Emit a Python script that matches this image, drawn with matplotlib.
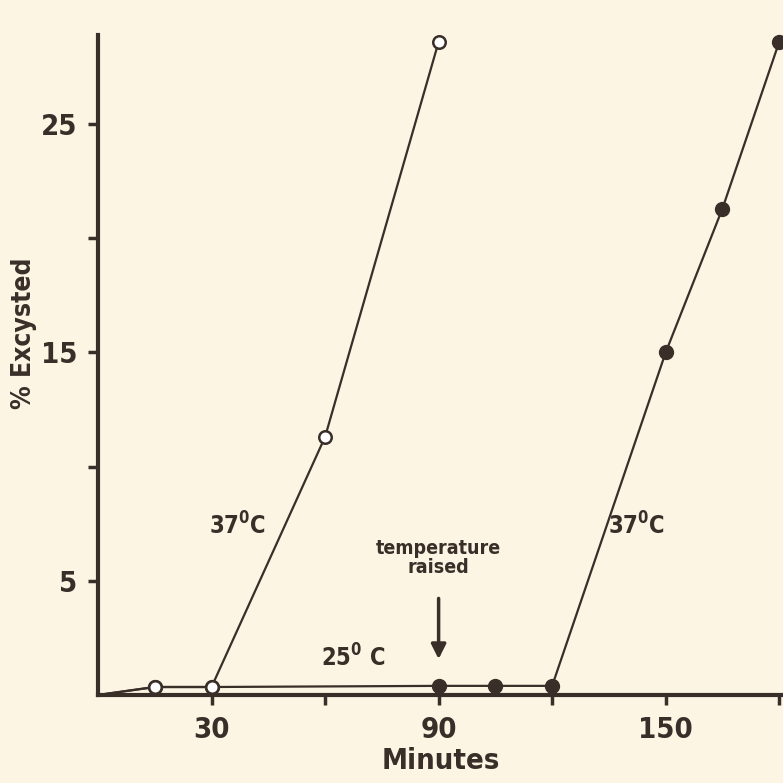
import matplotlib
matplotlib.use("Agg")
import matplotlib.pyplot as plt
from matplotlib import font_manager

# data
open_min = [0, 15, 30, 60, 90]
open_pct = [0, 0.35, 0.35, 11.3, 28.6]

filled_min = [0, 15, 30, 90, 105, 120, 150, 165, 180]
filled_pct = [0, 0.35, 0.35, 0.4, 0.4, 0.4, 15.0, 21.3, 28.6]

x_ticks = [30, 60, 90, 120, 150, 180]
x_tick_labels = ["30", "", "90", "", "150", ""]
y_ticks = [5, 10, 15, 20, 25]
y_tick_labels = ["5", "", "15", "", "25"]

ink = "#3a2e29"
paper = "#fcf5e4"

names = {f.name for f in font_manager.fontManager.ttflist}
family = "Liberation Sans Narrow" if "Liberation Sans Narrow" in names else "DejaVu Sans"
plt.rcParams["font.family"] = [family, "DejaVu Sans"]
plt.rcParams["font.weight"] = "bold"
plt.rcParams["font.stretch"] = "condensed"
plt.rcParams["axes.labelweight"] = "bold"
plt.rcParams["mathtext.default"] = "regular"
plt.rcParams["text.color"] = ink

fig = plt.figure(figsize=(7.83, 7.83), dpi=100, facecolor=paper)
ax = fig.add_axes([98 / 783, 1 - 695 / 783, 1 - 98 / 783, (695 - 35) / 783])
ax.set_facecolor(paper)

# skip the marker at the origin
ax.plot(filled_min, filled_pct, color=ink, lw=1.6, marker="o", ms=10,
        mfc=ink, mec=ink, markevery=list(range(1, len(filled_min))),
        clip_on=False, zorder=3)
ax.plot(open_min, open_pct, color=ink, lw=1.6, marker="o", ms=9,
        mfc="white", mec=ink, mew=1.8, markevery=list(range(1, len(open_min))),
        clip_on=False, zorder=4)

ax.set_xlim(0, 181)
ax.set_ylim(0, 28.9)

for s in ["top", "right"]:
    ax.spines[s].set_visible(False)
for s in ["left", "bottom"]:
    ax.spines[s].set_linewidth(3)
    ax.spines[s].set_color(ink)

ax.set_xticks(x_ticks)
ax.set_xticklabels(x_tick_labels)
ax.set_yticks(y_ticks)
ax.set_yticklabels(y_tick_labels)
ax.tick_params(axis="both", colors=ink, width=2.5, length=7, labelsize=21, pad=8)

ax.set_xlabel("Minutes", fontsize=21, color=ink, labelpad=2)
fig.text(24 / 783, 1 - 333 / 783, "% Excysted", fontsize=19, rotation=90,
         ha="center", va="center", color=ink)

ax.text(36.8, 7.4, "37$^0$C", fontsize=17, ha="center", va="center")
ax.text(142.4, 7.4, "37$^0$C", fontsize=17, ha="center", va="center")
ax.text(67.4, 1.6, "25$^0$ C", fontsize=17, ha="center", va="center")
ax.text(90, 6.0, "temperature\nraised", fontsize=14, ha="center", va="center",
        linespacing=1.0)
ax.annotate("", xy=(90, 1.45), xytext=(90, 4.35),
            arrowprops=dict(arrowstyle="-|>", color=ink, lw=2.5,
                            mutation_scale=22))

fig.savefig("out.png", dpi=100, facecolor=paper)
